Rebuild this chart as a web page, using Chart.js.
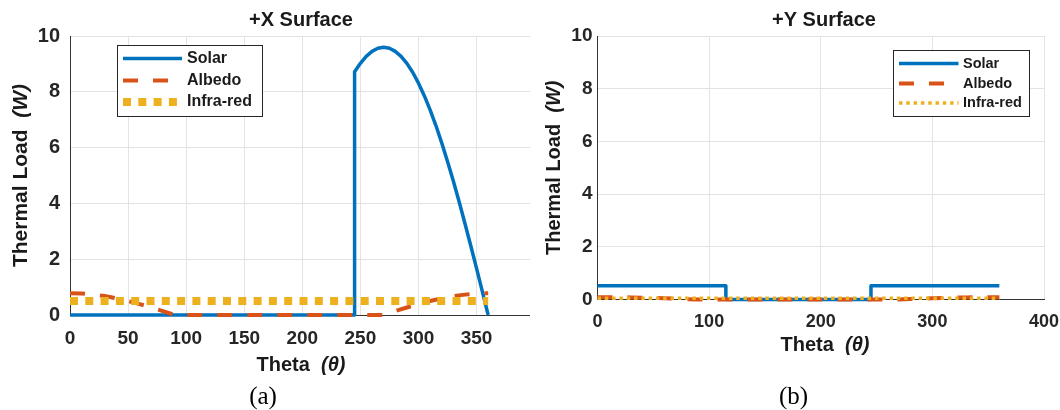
<!DOCTYPE html>
<html>
<head>
<meta charset="utf-8">
<script src="https://cdn.jsdelivr.net/npm/chart.js@4.4.1/dist/chart.umd.min.js"></script>
<style>
  body { margin: 0; background: #fff; }
  #wrap { position: relative; width: 1060px; height: 410px; }
  canvas { position: absolute; top: 0; }
  #chartA { left: 0; }
  #chartB { left: 530px; }
</style>
</head>
<body>
<div id="wrap">
  <canvas id="chartA" width="530" height="410"></canvas>
  <canvas id="chartB" width="530" height="410"></canvas>
</div>
<script>
// ---- data (a) +X Surface ----
const thetaSolarX = [0, 245, 245, 250, 255, 260, 265, 270, 275, 280, 285, 290, 295, 300, 305, 310, 315, 320, 325, 330, 335, 340, 345, 350, 355, 360];
const solarX = [0, 0, 8.72, 9.02, 9.27, 9.45, 9.56, 9.6, 9.56, 9.45, 9.27, 9.02, 8.7, 8.31, 7.86, 7.35, 6.79, 6.17, 5.5, 4.8, 4.06, 3.28, 2.48, 1.67, 0.84, 0];
const thetaX = [0, 10, 20, 30, 40, 50, 60, 70, 80, 90, 100, 110, 120, 130, 140, 150, 160, 170, 180, 190, 200, 210, 220, 230, 240, 250, 260, 270, 280, 290, 300, 310, 320, 330, 340, 350, 360];
const albedoX = [0.78, 0.77, 0.73, 0.68, 0.6, 0.5, 0.39, 0.27, 0.14, 0, 0, 0, 0, 0, 0, 0, 0, 0, 0, 0, 0, 0, 0, 0, 0, 0, 0, 0, 0.14, 0.27, 0.39, 0.5, 0.6, 0.68, 0.73, 0.77, 0.78];
const thetaIrX = [0, 360];
const irX = [0.5, 0.5];
const xTicksA = [0, 50, 100, 150, 200, 250, 300, 350];

// ---- data (b) +Y Surface ----
const thetaSolarY = [0, 115, 115, 245, 245, 360];
const solarY = [0.52, 0.52, 0, 0, 0.52, 0.52];
const thetaY = thetaX;
const albedoY = [0.09, 0.09, 0.085, 0.08, 0.07, 0.06, 0.045, 0.03, 0.015, 0, 0, 0, 0, 0, 0, 0, 0, 0, 0, 0, 0, 0, 0, 0, 0, 0, 0, 0, 0.015, 0.03, 0.045, 0.06, 0.07, 0.08, 0.085, 0.09, 0.09];
const thetaIrY = [0, 360];
const irY = [0.05, 0.05];
const xTicksB = [0, 100, 200, 300, 400];

const yTicks = [0, 2, 4, 6, 8, 10];
const seriesNames = ['Solar', 'Albedo', 'Infra-red'];

const BLUE = '#0072BD', ORANGE = '#D95319', YELLOW = '#EDB120';
const FAM = '"Liberation Sans", Arial, sans-serif';

function pts(xs, ys) { return xs.map((x, i) => ({ x: x, y: ys[i] })); }

function mixedText(ctx, a, b, x, y, size, rot) {
  ctx.save();
  ctx.translate(x, y);
  ctx.rotate(rot);
  ctx.textBaseline = 'middle';
  ctx.textAlign = 'left';
  ctx.font = 'bold ' + size + 'px ' + FAM;
  const wa = ctx.measureText(a).width;
  ctx.font = 'italic bold ' + size + 'px ' + FAM;
  const wb = ctx.measureText(b).width;
  const x0 = -(wa + wb) / 2;
  ctx.font = 'bold ' + size + 'px ' + FAM;
  ctx.fillText(a, x0, 0);
  ctx.font = 'italic bold ' + size + 'px ' + FAM;
  ctx.fillText(b, x0 + wa, 0);
  ctx.restore();
}

const deco = {
  id: 'deco',
  afterDraw(chart, args, o) {
    const ctx = chart.ctx, a = chart.chartArea;
    ctx.save();
    ctx.fillStyle = '#1a1a1a';
    ctx.textAlign = 'center';
    ctx.textBaseline = 'middle';
    ctx.font = 'bold 20px ' + FAM;
    ctx.fillText(o.title, o.titleX, 20);
    mixedText(ctx, 'Theta  ', '(θ)', o.xTitleX, o.xTitleY, 20, 0);
    mixedText(ctx, 'Thermal Load  ', '(W)', o.yTitleX, (a.top + a.bottom) / 2, o.yTitleSize, -Math.PI / 2);
    ctx.fillStyle = '#000';
    ctx.font = '25px "Liberation Serif", serif';
    ctx.textAlign = 'center';
    ctx.fillText(o.caption, o.capX, 397);

    // legend box
    const L = o.legend;
    ctx.fillStyle = '#fff';
    ctx.fillRect(L.x, L.y, L.w, L.h);
    ctx.strokeStyle = '#262626';
    ctx.lineWidth = 1;
    ctx.strokeRect(L.x + 0.5, L.y + 0.5, L.w, L.h);
    chart.data.datasets.forEach((ds, i) => {
      const yy = L.rows[i];
      ctx.save();
      ctx.strokeStyle = ds.borderColor;
      ctx.lineWidth = ds.borderWidth;
      ctx.setLineDash(ds.borderDash || []);
      ctx.beginPath();
      ctx.moveTo(L.lx1, yy);
      ctx.lineTo(L.lx2, yy);
      ctx.stroke();
      ctx.restore();
      ctx.fillStyle = '#1a1a1a';
      ctx.textAlign = 'left';
      ctx.font = 'bold ' + L.font + 'px ' + FAM;
      ctx.fillText(ds.label, L.tx, yy);
    });
    ctx.restore();
  }
};

function makeChart(id, d) {
  return new Chart(document.getElementById(id), {
    type: 'line',
    data: {
      datasets: [
        { label: seriesNames[0], data: pts(d.thSolar, d.solar), borderColor: BLUE, borderWidth: 3.5, order: 3, borderJoinStyle: 'round' },
        { label: seriesNames[1], data: pts(d.thAlb, d.albedo), borderColor: ORANGE, borderWidth: 4, borderDash: [15, 15], order: 2 },
        { label: seriesNames[2], data: pts(d.thIr, d.ir), borderColor: YELLOW, borderWidth: d.irWidth, borderDash: d.irDash, order: 1 }
      ]
    },
    options: {
      responsive: false,
      animation: false,
      layout: { padding: { top: 36, right: d.padRight, bottom: 0, left: 0 } },
      elements: { point: { radius: 0 }, line: { tension: 0, fill: false } },
      datasets: { line: { clip: false } },
      plugins: {
        legend: { display: false },
        tooltip: { enabled: false },
        deco: d.deco
      },
      scales: {
        x: {
          type: 'linear', min: 0, max: d.xMax,
          afterBuildTicks: s => { s.ticks = d.xTicks.map(v => ({ value: v })); },
          afterFit: s => { s.height = d.xAxisH; s.paddingRight = 0; },
          grid: { color: '#e3e3e3', drawTicks: false },
          border: { color: '#333', width: 1 },
          ticks: { font: { family: FAM, size: d.tickSize, weight: 'bold' }, color: '#262626', padding: 12, maxRotation: 0, autoSkip: false }
        },
        y: {
          type: 'linear', min: 0, max: 10,
          afterBuildTicks: s => { s.ticks = yTicks.map(v => ({ value: v })); },
          afterFit: s => { s.width = d.yAxisW; },
          grid: { color: '#e3e3e3', drawTicks: false },
          border: { color: '#333', width: 1 },
          ticks: { font: { family: FAM, size: d.tickSize + 1, weight: 'bold' }, color: '#262626', padding: d.yPad }
        }
      }
    },
    plugins: [deco]
  });
}

makeChart('chartA', {
  thSolar: thetaSolarX, solar: solarX, thAlb: thetaX, albedo: albedoX, thIr: thetaIrX, ir: irX,
  irWidth: 8, irDash: [8, 7.3],
  xMax: 396, xTicks: xTicksA, xAxisH: 95, yAxisW: 70, padRight: 0, tickSize: 19, yPad: 10,
  deco: {
    title: '+X Surface', titleX: 301, xTitleX: 301, xTitleY: 365, yTitleX: 21, yTitleSize: 21,
    caption: '(a)', capX: 263,
    legend: { x: 117, y: 45, w: 145, h: 71, rows: [58.5, 80.5, 102], lx1: 123, lx2: 182, tx: 187, font: 16 }
  }
});

makeChart('chartB', {
  thSolar: thetaSolarY, solar: solarY, thAlb: thetaY, albedo: albedoY, thIr: thetaIrY, ir: irY,
  irWidth: 3.5, irDash: [3.5, 3.8],
  xMax: 400, xTicks: xTicksB, xAxisH: 110.5, yAxisW: 67.5, padRight: 16, tickSize: 18, yPad: 5,
  deco: {
    title: '+Y Surface', titleX: 294, xTitleX: 295, xTitleY: 345, yTitleX: 24, yTitleSize: 20,
    caption: '(b)', capX: 263.5,
    legend: { x: 363, y: 50, w: 136, h: 66, rows: [63.5, 83.5, 103], lx1: 369, lx2: 428.5, tx: 433, font: 14.5 }
  }
});
</script>
</body>
</html>
